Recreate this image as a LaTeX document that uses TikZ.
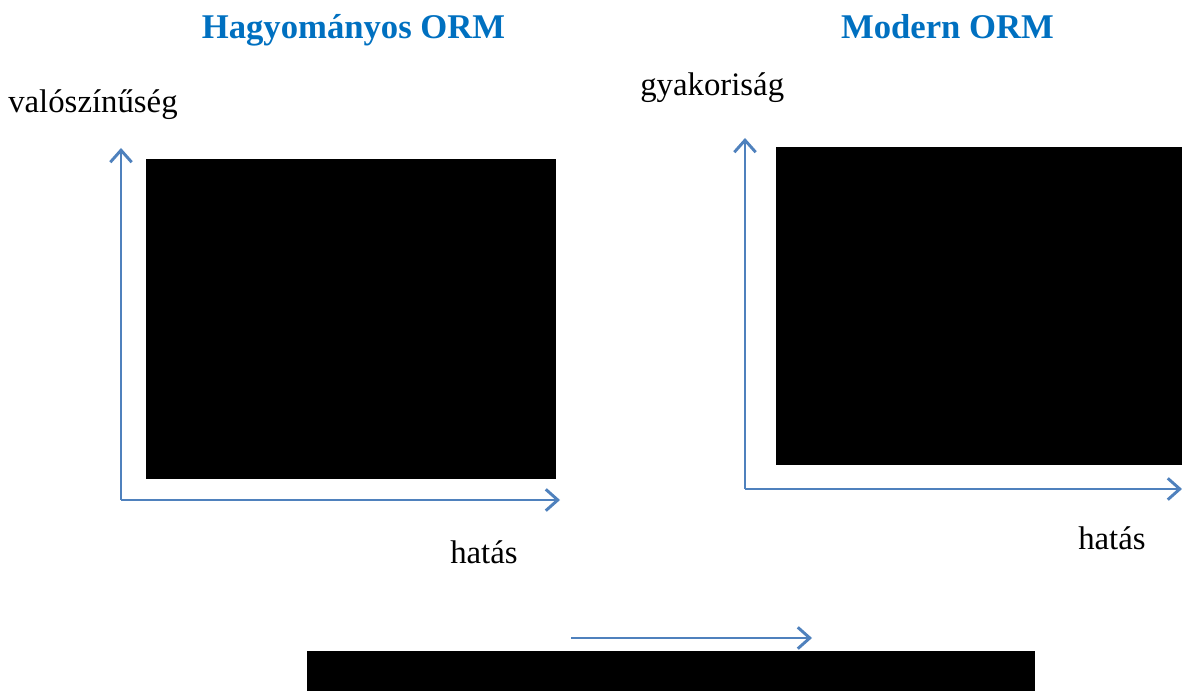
\documentclass[tikz,border=0pt]{standalone}
\usepackage{fontspec}
\setmainfont{Liberation Serif}
\usetikzlibrary{arrows.meta}
\definecolor{titleblue}{HTML}{0070C0}
\definecolor{axisblue}{HTML}{4F81BD}
\tikzset{
  axisline/.style={draw=axisblue, line width=2.2pt, -{Straight Barb[length=9pt, width=16pt, line width=2.2pt]}},
  titletext/.style={anchor=base, inner sep=0pt, text=titleblue, font=\fontsize{26}{31}\selectfont\bfseries},
  labeltext/.style={anchor=base west, inner sep=0pt, font=\fontsize{24.6}{29}\selectfont},
  imagebox/.style={fill=black, draw=none}
}
\begin{document}
\begin{tikzpicture}[x=0.75pt, y=-0.75pt]
\useasboundingbox (0,0) rectangle (1182,691);
% titles
\node[titletext] (t1) at (353.5,39) {Hagyományos ORM};
\node[titletext] (t2) at (947.5,39) {Modern ORM};
% axis labels
\node[labeltext] (yl1) at (8,113) {valószínűség};
\node[labeltext] (yl2) at (640,96) {gyakoriság};
\node[labeltext] (xl1) at (450,563) {hatás};
\node[labeltext] (xl2) at (1078,549) {hatás};
% image placeholders
\fill[imagebox] (146,159) rectangle (556,479);
\fill[imagebox] (776,147) rectangle (1182,465);
\fill[imagebox] (307,651) rectangle (1035,691);
% left axes
\coordinate (o1) at (121,500);
\coordinate (y1) at (121,148);
\coordinate (x1) at (560,500);
\draw[axisline] (o1) -- (y1);
\draw[axisline] (o1) -- (x1);
% right axes
\coordinate (o2) at (745,489);
\coordinate (y2) at (745,138);
\coordinate (x2) at (1182,489);
\draw[axisline] (o2) -- (y2);
\draw[axisline] (o2) -- (x2);
% bottom arrow
\coordinate (a1) at (571,638);
\coordinate (a2) at (812,638);
\draw[axisline] (a1) -- (a2);
\end{tikzpicture}
\end{document}
